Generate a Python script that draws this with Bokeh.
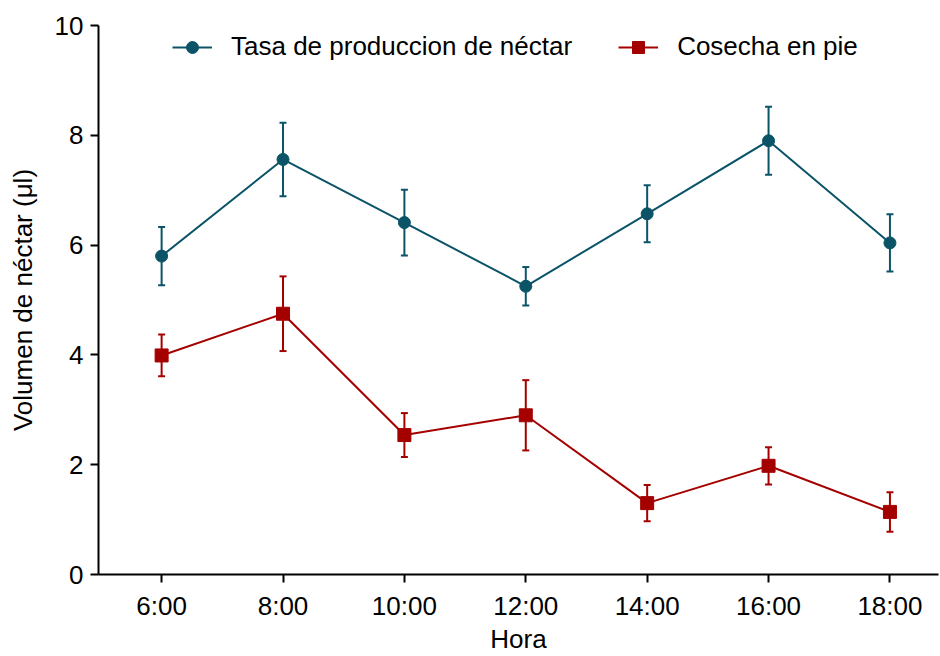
from bokeh.plotting import figure
from bokeh.models import ColumnDataSource, Whisker, TeeHead, FixedTicker, Range1d, Legend, LegendItem
from bokeh.embed import file_html
from bokeh.resources import INLINE

hours = ["6:00", "8:00", "10:00", "12:00", "14:00", "16:00", "18:00"]
tasa = [5.80, 7.56, 6.41, 5.25, 6.57, 7.90, 6.04]
tasa_err = [0.53, 0.67, 0.60, 0.35, 0.52, 0.62, 0.52]
cosecha = [3.99, 4.75, 2.54, 2.90, 1.30, 1.98, 1.14]
cosecha_err = [0.38, 0.68, 0.40, 0.64, 0.33, 0.34, 0.36]

BLUE = "#0B5468"
RED = "#A50000"
FONT = "Liberation Sans"

xs = list(range(len(hours)))
src_t = ColumnDataSource(dict(x=xs, y=tasa,
                              lo=[m - e for m, e in zip(tasa, tasa_err)],
                              hi=[m + e for m, e in zip(tasa, tasa_err)]))
src_c = ColumnDataSource(dict(x=xs, y=cosecha,
                              lo=[m - e for m, e in zip(cosecha, cosecha_err)],
                              hi=[m + e for m, e in zip(cosecha, cosecha_err)]))

p = figure(width=940, height=656, output_backend="svg", toolbar_location=None,
           x_range=Range1d(-0.52, 6.4), y_range=Range1d(0, 10),
           min_border_left=98, min_border_right=2, min_border_top=25, min_border_bottom=81)
p.outline_line_color = None
p.grid.visible = False

for src, col in ((src_t, BLUE), (src_c, RED)):
    w = Whisker(source=src, base="x", upper="hi", lower="lo",
                line_color=col, line_width=2,
                upper_head=TeeHead(size=7, line_color=col, line_width=2),
                lower_head=TeeHead(size=7, line_color=col, line_width=2))
    p.add_layout(w)

l1 = p.line("x", "y", source=src_t, line_color=BLUE, line_width=2)
m1 = p.scatter("x", "y", source=src_t, marker="circle", size=12, fill_color=BLUE, line_color=BLUE)
l2 = p.line("x", "y", source=src_c, line_color=RED, line_width=2)
m2 = p.scatter("x", "y", source=src_c, marker="square", size=13, fill_color=RED, line_color=RED)

legend = Legend(items=[LegendItem(label="Tasa de produccion de néctar", renderers=[l1, m1]),
                       LegendItem(label="Cosecha en pie", renderers=[l2, m2])],
                orientation="horizontal", location=(74, 512),
                border_line_color=None, background_fill_alpha=0,
                label_text_font=FONT, label_text_font_size="26px", label_text_color="black",
                glyph_width=40, glyph_height=30, spacing=46, label_standoff=19,
                padding=0, margin=0)
p.add_layout(legend)

p.xaxis.ticker = FixedTicker(ticks=xs)
p.xaxis.major_label_overrides = {i: h for i, h in enumerate(hours)}
p.yaxis.ticker = FixedTicker(ticks=[0, 2, 4, 6, 8, 10])
for ax in (p.xaxis, p.yaxis):
    ax.axis_line_width = 2
    ax.axis_line_color = "black"
    ax.major_tick_line_width = 2
    ax.major_tick_line_color = "black"
    ax.major_tick_out = 8
    ax.major_tick_in = 0
    ax.minor_tick_line_color = None
    ax.major_label_text_font = FONT
    ax.major_label_text_font_size = "26px"
    ax.major_label_text_color = "black"
    ax.axis_label_text_font = FONT
    ax.axis_label_text_font_size = "26px"
    ax.axis_label_text_font_style = "normal"
    ax.axis_label_text_color = "black"
p.xaxis.axis_label = "Hora"
p.yaxis.axis_label = "Volumen de néctar (μl)"
p.xaxis.major_label_standoff = 8
p.yaxis.major_label_standoff = 7
p.xaxis.axis_label_standoff = 0
p.yaxis.axis_label_standoff = 14

open("out.html", "w").write(file_html(p, INLINE))
